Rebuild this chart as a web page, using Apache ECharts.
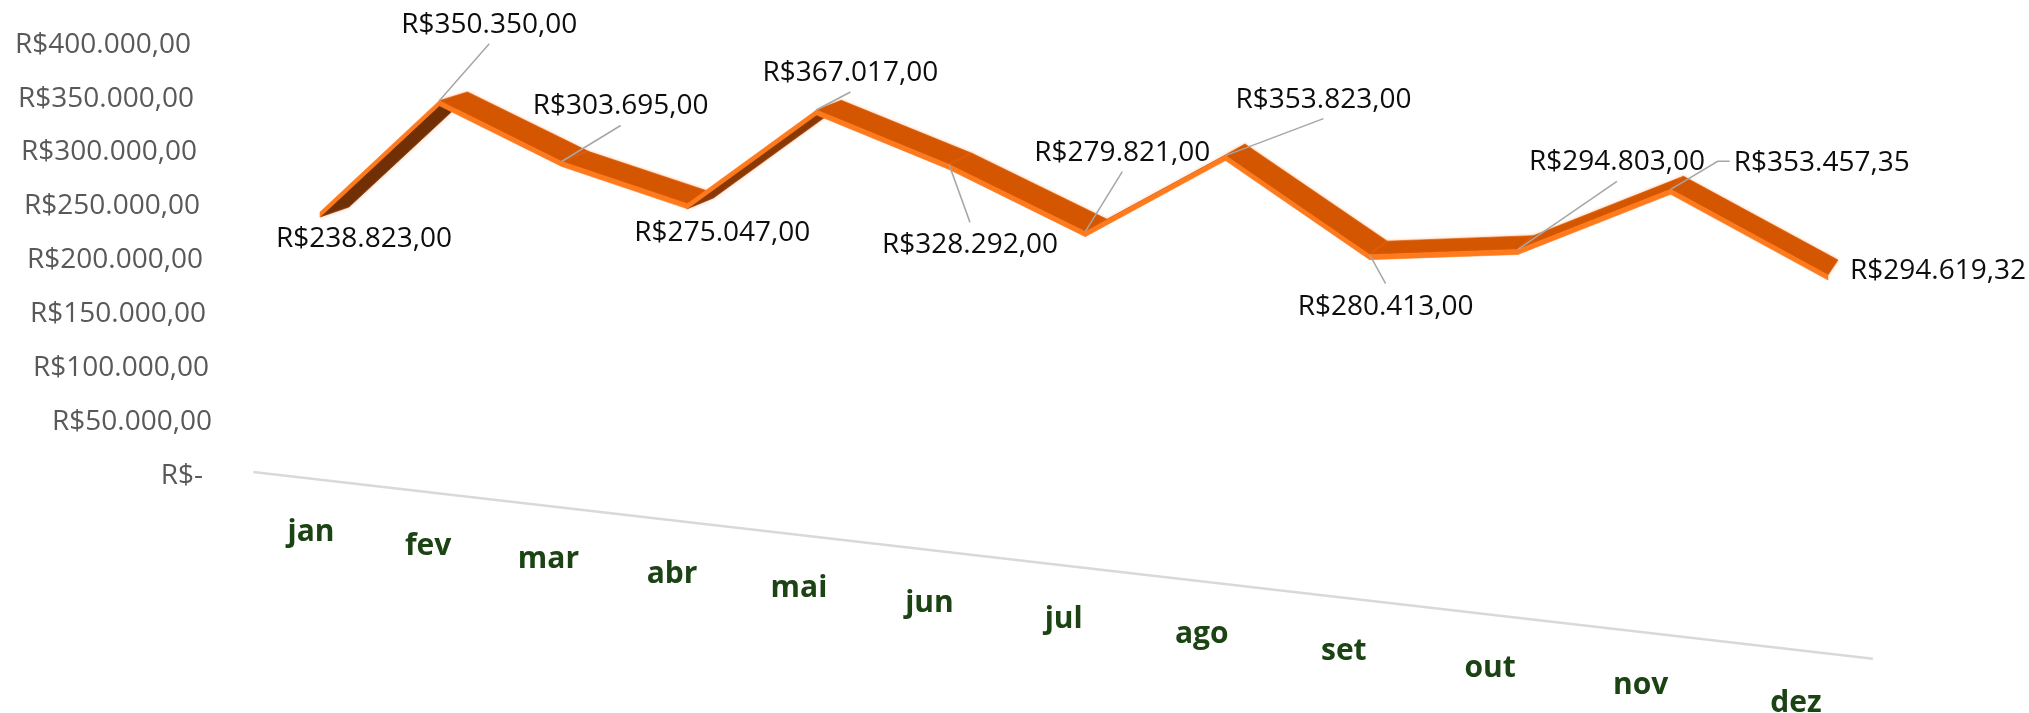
<!DOCTYPE html>
<html>
<head>
<meta charset="utf-8">
<script src="https://cdn.jsdelivr.net/npm/echarts@6/dist/echarts.min.js"></script>
<style>
  html, body { margin: 0; padding: 0; background: #fff; }
  #chart { width: 2029px; height: 713px; }
</style>
</head>
<body>
<div id="chart"></div>
<script>
const months = ["jan", "fev", "mar", "abr", "mai", "jun", "jul", "ago", "set", "out", "nov", "dez"];
const receita = [238823, 350350, 303695, 275047, 367017, 328292, 279821, 353823, 280413, 294803, 353457.35, 294619.32];
const yMin = 0;
const yMax = 400000;
const yStep = 50000;

// where each data label sits relative to its point, and which side the leader leaves from
const labelPos = [
  [44, 27, ""], [50, -76, "b"], [59, -55, "b"], [35, 29, ""],
  [34, -37, "b"], [21, 81, "t"], [37, -79, "b"], [98, -56, "b"],
  [16, 52, "t"], [99, -87, "b"], [151, -26, "l"], [110, -4, ""]
];

// 3d look: months come toward the viewer, depth goes to a vanishing point
const persp = -0.012845;
const lift = 7.67;
const vanish = [2330, -480];
const band = 5;

const labelFont = '28px "Open Sans"';
const measure = document.createElement("canvas").getContext("2d");

function brl(v) {
  if (v === 0) return "R$-";
  const parts = v.toFixed(2).split(".");
  return "R$" + parts[0].replace(/\B(?=(\d{3})+(?!\d))/g, ".") + "," + parts[1];
}

function flat(api, i, v) {
  const a = api.coord([0, v]);
  const b = api.coord([1, v]);
  return [a[0] + (b[0] - a[0]) * i, a[1]];
}

function proj(api, i, v, z) {
  const p = flat(api, i, v);
  const d = 1 + persp * i;
  const x = p[0] / d;
  const y = (p[1] + lift * i) / d;
  const t = z * (0.0144 + 0.0005 * i);
  return [x + (vanish[0] - x) * t, y + (vanish[1] - y) * t];
}

function mix(c1, c2, f) {
  const r = c1.map((c, k) => Math.round(c + (c2[k] - c) * f));
  return "rgb(" + r.join(",") + ")";
}

function renderItem(params, api) {
  const i = api.value(0);
  const v = api.value(1);
  const kids = [];
  const F0 = proj(api, i, v, 0);
  const B0 = proj(api, i, v, 1);

  if (i === 0) {
    // floor edge
    const a = proj(api, -0.42, 0, -0.6);
    const b = proj(api, 11.3, 0, -0.35);
    kids.push({
      type: "line",
      shape: { x1: a[0], y1: a[1], x2: b[0], y2: b[1] },
      style: { stroke: "#d9d9d9", lineWidth: 2.5 },
      z2: 1
    });
  }

  if (i < receita.length - 1) {
    const v1 = receita[i + 1];
    const F1 = proj(api, i + 1, v1, 0);
    const B1 = proj(api, i + 1, v1, 1);
    const dx = F1[0] - F0[0], dy = F1[1] - F0[1];
    const ox = B0[0] - F0[0], oy = B0[1] - F0[1];
    const cross = dx * oy - dy * ox;
    let face, fill;
    if (cross < 0) {
      face = [F0, F1, B1, B0];
      fill = "#d45600";
    } else {
      // underside shows, darker the steeper it climbs
      const ang = Math.atan2(-dy, dx) * 180 / Math.PI;
      const f = Math.min(1, Math.max(0, (ang - 20) / 25));
      face = [F0, F1, B1, B0].map(p => [p[0], p[1] + band]);
      fill = mix([184, 76, 6], [107, 45, 6], f);
    }
    kids.push({
      type: "polygon",
      shape: { points: face },
      style: { fill: fill, stroke: fill, lineWidth: 0.6, shadowBlur: 3, shadowColor: "rgba(255,120,30,0.5)" },
      z2: 10 + i * 2
    });
    kids.push({
      type: "polygon",
      shape: { points: [F0, F1, [F1[0], F1[1] + band], [F0[0], F0[1] + band]] },
      style: { fill: "#ff7a1c", stroke: "#ff7a1c", lineWidth: 0.6 },
      z2: 11 + i * 2
    });
  }

  // data label + leader
  const lp = labelPos[i];
  const cx = F0[0] + lp[0];
  const cy = F0[1] + lp[1];
  const txt = brl(v);
  kids.push({
    type: "text",
    style: {
      x: cx, y: cy, text: txt, font: labelFont, fill: "#0d0d0d",
      align: "center", verticalAlign: "middle"
    },
    z2: 100
  });
  let lead = null;
  if (lp[2] === "b") lead = [[cx, cy + 19], F0];
  if (lp[2] === "t") lead = [[cx, cy - 23], F0];
  if (lp[2] === "l") {
    measure.font = labelFont;
    const half = measure.measureText(txt).width / 2;
    lead = [[cx - half - 4, cy - 2], [cx - half - 16, cy - 2], F0];
  }
  if (lead) {
    kids.push({
      type: "polyline",
      shape: { points: lead },
      style: { stroke: "#a6a6a6", lineWidth: 1.5, fill: null },
      z2: 90
    });
  }

  // month on the floor
  const m = proj(api, i, 0, 0);
  kids.push({
    type: "text",
    style: {
      x: m[0] - 9 - 2.1 * i, y: m[1] + 63 - 0.45 * i, text: months[i],
      font: 'bold 30px "Open Sans"', fill: "#1b4314",
      align: "center", verticalAlign: "middle"
    },
    z2: 100
  });

  return { type: "group", children: kids };
}

const rich = {};
for (let k = 0; k <= (yMax - yMin) / yStep; k++) {
  rich["w" + k] = {
    fontSize: 28, fontFamily: "Open Sans", color: "#595959",
    padding: [13, k === 0 ? 12 : 3 * k, 0, 0]
  };
}

const chart = echarts.init(document.getElementById("chart"));
chart.setOption({
  animation: false,
  backgroundColor: "#fff",
  grid: { left: 320, right: 459.3, top: 38.1, bottom: 243.3 },
  xAxis: {
    type: "category",
    data: months,
    boundaryGap: false,
    show: false
  },
  yAxis: {
    type: "value",
    min: yMin,
    max: yMax,
    interval: yStep,
    axisLine: { show: false },
    axisTick: { show: false },
    splitLine: { show: false },
    axisLabel: {
      margin: 105,
      fontSize: 28,
      fontFamily: "Open Sans",
      color: "#595959",
      formatter: (val, idx) => "{w" + idx + "|" + brl(val) + "}",
      rich: rich
    }
  },
  series: [
    {
      type: "custom",
      coordinateSystem: "cartesian2d",
      clip: false,
      encode: { x: 0, y: 1 },
      data: receita.map((v, i) => [i, v]),
      renderItem: renderItem
    }
  ]
});
</script>
</body>
</html>
